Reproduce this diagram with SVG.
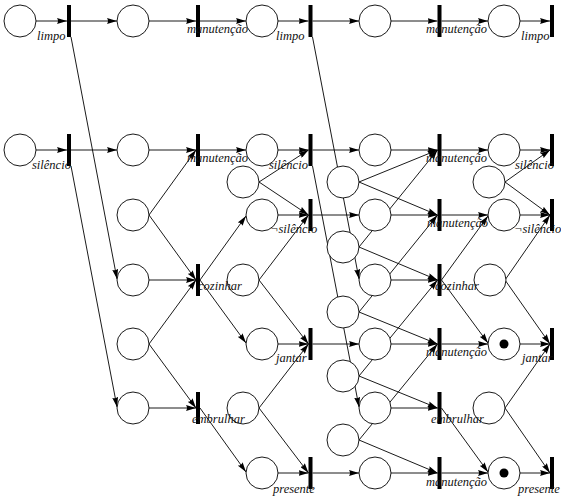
<svg xmlns="http://www.w3.org/2000/svg" width="561" height="496" viewBox="0 0 561 496">
<style>
.p{fill:#fff;stroke:#000;stroke-width:0.9}
.t{fill:#000}
.e{stroke:#000;stroke-width:0.9;fill:none;marker-end:url(#ah)}
.l{font-family:'Liberation Serif','Times New Roman',serif;font-style:italic;font-size:12.5px;fill:#111}
.k{fill:#000}
</style>
<defs>
<marker id="ah" markerUnits="userSpaceOnUse" markerWidth="10" markerHeight="6" refX="10" refY="3" orient="auto">
<path d="M0,0 L10,3 L0,6 Q2,3 0,0 z" fill="#000"/>
</marker>
</defs>
<rect width="561" height="496" fill="#fff"/>
<g id="connectors">
<line class="e" x1="36" y1="21" x2="67" y2="21"/>
<line class="e" x1="71" y1="21" x2="117" y2="21"/>
<line class="e" x1="149" y1="21" x2="196" y2="21"/>
<line class="e" x1="200" y1="21" x2="246" y2="21"/>
<line class="e" x1="278" y1="21" x2="308.5" y2="21"/>
<line class="e" x1="312.5" y1="21" x2="359" y2="21"/>
<line class="e" x1="391" y1="21" x2="437.5" y2="21"/>
<line class="e" x1="441.5" y1="21" x2="488" y2="21"/>
<line class="e" x1="520" y1="21" x2="550" y2="21"/>
<line class="e" x1="36" y1="150" x2="67" y2="150"/>
<line class="e" x1="71" y1="150" x2="117" y2="150"/>
<line class="e" x1="149" y1="150" x2="196" y2="150"/>
<line class="e" x1="200" y1="150" x2="246" y2="150"/>
<line class="e" x1="278" y1="150" x2="308.5" y2="150"/>
<line class="e" x1="312.5" y1="150" x2="359" y2="150"/>
<line class="e" x1="391" y1="150" x2="437.5" y2="150"/>
<line class="e" x1="441.5" y1="150" x2="488" y2="150"/>
<line class="e" x1="520" y1="150" x2="550" y2="150"/>
<line class="e" x1="278" y1="215" x2="308.5" y2="215"/>
<line class="e" x1="312.5" y1="215" x2="359" y2="215"/>
<line class="e" x1="391" y1="215" x2="437.5" y2="215"/>
<line class="e" x1="441.5" y1="215" x2="488" y2="215"/>
<line class="e" x1="520" y1="215" x2="550" y2="215"/>
<line class="e" x1="149" y1="280" x2="196" y2="280"/>
<line class="e" x1="391" y1="280" x2="437.5" y2="280"/>
<line class="e" x1="278" y1="344" x2="308.5" y2="344"/>
<line class="e" x1="312.5" y1="344" x2="359" y2="344"/>
<line class="e" x1="391" y1="344" x2="437.5" y2="344"/>
<line class="e" x1="441.5" y1="344" x2="488" y2="344"/>
<line class="e" x1="520" y1="344" x2="550" y2="344"/>
<line class="e" x1="149" y1="408" x2="196" y2="408"/>
<line class="e" x1="391" y1="408" x2="437.5" y2="408"/>
<line class="e" x1="278" y1="473" x2="308.5" y2="473"/>
<line class="e" x1="312.5" y1="473" x2="359" y2="473"/>
<line class="e" x1="391" y1="473" x2="437.5" y2="473"/>
<line class="e" x1="441.5" y1="473" x2="488" y2="473"/>
<line class="e" x1="520" y1="473" x2="550" y2="473"/>
<line class="e" x1="71" y1="37" x2="117" y2="279"/>
<line class="e" x1="71" y1="166" x2="117" y2="407"/>
<line class="e" x1="312.5" y1="37" x2="359" y2="279"/>
<line class="e" x1="312.5" y1="166" x2="359" y2="407"/>
<line class="e" x1="149" y1="215" x2="196" y2="150"/>
<line class="e" x1="149" y1="215" x2="196" y2="280"/>
<line class="e" x1="149" y1="344" x2="196" y2="280"/>
<line class="e" x1="149" y1="344" x2="196" y2="408"/>
<line class="e" x1="200" y1="280" x2="246" y2="216"/>
<line class="e" x1="200" y1="280" x2="246" y2="343"/>
<line class="e" x1="200" y1="408" x2="246" y2="472"/>
<line class="e" x1="259" y1="182" x2="308.5" y2="150"/>
<line class="e" x1="259" y1="182" x2="308.5" y2="215"/>
<line class="e" x1="259" y1="280" x2="308.5" y2="215"/>
<line class="e" x1="259" y1="280" x2="308.5" y2="344"/>
<line class="e" x1="259" y1="408" x2="308.5" y2="344"/>
<line class="e" x1="259" y1="408" x2="308.5" y2="473"/>
<line class="e" x1="359" y1="182" x2="437.5" y2="150"/>
<line class="e" x1="359" y1="182" x2="437.5" y2="215"/>
<line class="e" x1="359" y1="247" x2="437.5" y2="150"/>
<line class="e" x1="359" y1="247" x2="437.5" y2="280"/>
<line class="e" x1="359" y1="312" x2="437.5" y2="215"/>
<line class="e" x1="359" y1="312" x2="437.5" y2="344"/>
<line class="e" x1="359" y1="376" x2="437.5" y2="280"/>
<line class="e" x1="359" y1="376" x2="437.5" y2="408"/>
<line class="e" x1="359" y1="440" x2="437.5" y2="344"/>
<line class="e" x1="359" y1="440" x2="437.5" y2="473"/>
<line class="e" x1="441.5" y1="280" x2="488" y2="216"/>
<line class="e" x1="441.5" y1="280" x2="488" y2="343"/>
<line class="e" x1="441.5" y1="408" x2="488" y2="472"/>
<line class="e" x1="505" y1="182" x2="550" y2="150"/>
<line class="e" x1="505" y1="182" x2="550" y2="215"/>
<line class="e" x1="505" y1="280" x2="550" y2="215"/>
<line class="e" x1="505" y1="280" x2="550" y2="344"/>
<line class="e" x1="505" y1="408" x2="550" y2="344"/>
<line class="e" x1="505" y1="408" x2="550" y2="473"/>
</g>
<g id="pA1"><circle class="p" cx="20" cy="21" r="16"/></g>
<g id="pA2"><circle class="p" cx="20" cy="150" r="16"/></g>
<g id="pB1"><circle class="p" cx="133" cy="21" r="16"/></g>
<g id="pB2"><circle class="p" cx="133" cy="150" r="16"/></g>
<g id="pB3"><circle class="p" cx="133" cy="215" r="16"/></g>
<g id="pB4"><circle class="p" cx="133" cy="280" r="16"/></g>
<g id="pB5"><circle class="p" cx="133" cy="344" r="16"/></g>
<g id="pB6"><circle class="p" cx="133" cy="408" r="16"/></g>
<g id="pC1"><circle class="p" cx="262" cy="21" r="16"/></g>
<g id="pC2"><circle class="p" cx="262" cy="150" r="16"/></g>
<g id="pC3"><circle class="p" cx="262" cy="215" r="16"/></g>
<g id="pC5"><circle class="p" cx="262" cy="344" r="16"/></g>
<g id="pC7"><circle class="p" cx="262" cy="473" r="16"/></g>
<g id="pCa"><circle class="p" cx="243" cy="182" r="16"/></g>
<g id="pCb"><circle class="p" cx="243" cy="280" r="16"/></g>
<g id="pCc"><circle class="p" cx="243" cy="408" r="16"/></g>
<g id="pDa"><circle class="p" cx="343" cy="182" r="16"/></g>
<g id="pDb"><circle class="p" cx="343" cy="247" r="16"/></g>
<g id="pDc"><circle class="p" cx="343" cy="312" r="16"/></g>
<g id="pDd"><circle class="p" cx="343" cy="376" r="16"/></g>
<g id="pDe"><circle class="p" cx="343" cy="440" r="16"/></g>
<g id="pE1"><circle class="p" cx="375" cy="21" r="16"/></g>
<g id="pE2"><circle class="p" cx="375" cy="150" r="16"/></g>
<g id="pE3"><circle class="p" cx="375" cy="215" r="16"/></g>
<g id="pE4"><circle class="p" cx="375" cy="280" r="16"/></g>
<g id="pE5"><circle class="p" cx="375" cy="344" r="16"/></g>
<g id="pE6"><circle class="p" cx="375" cy="408" r="16"/></g>
<g id="pE7"><circle class="p" cx="375" cy="473" r="16"/></g>
<g id="pF1"><circle class="p" cx="504" cy="21" r="16"/></g>
<g id="pF2"><circle class="p" cx="504" cy="150" r="16"/></g>
<g id="pF3"><circle class="p" cx="504" cy="215" r="16"/></g>
<g id="pF5"><circle class="p" cx="504" cy="344" r="16"/><circle class="k" cx="504" cy="344" r="4.5"/></g>
<g id="pF7"><circle class="p" cx="504" cy="473" r="16"/><circle class="k" cx="504" cy="473" r="4.5"/></g>
<g id="pFa"><circle class="p" cx="489" cy="182" r="16"/></g>
<g id="pFb"><circle class="p" cx="490" cy="280" r="16"/></g>
<g id="pFc"><circle class="p" cx="489" cy="408" r="16"/></g>
<g id="t1a"><rect class="t" x="67" y="5" width="4" height="32"/><text class="l" x="37" y="40">limpo</text></g>
<g id="t1b"><rect class="t" x="67" y="134" width="4" height="32"/><text class="l" x="32" y="169">silêncio</text></g>
<g id="t2a"><rect class="t" x="196" y="5" width="4" height="32"/><text class="l" x="187" y="33">manutenção</text></g>
<g id="t2b"><rect class="t" x="196" y="134" width="4" height="32"/><text class="l" x="187" y="162">manutenção</text></g>
<g id="t2d"><rect class="t" x="196" y="264" width="4" height="32"/><text class="l" x="198" y="290">cozinhar</text></g>
<g id="t2f"><rect class="t" x="196" y="392" width="4" height="32"/><text class="l" x="192" y="423">embrulhar</text></g>
<g id="t3a"><rect class="t" x="308.5" y="5" width="4" height="32"/><text class="l" x="276" y="40">limpo</text></g>
<g id="t3b"><rect class="t" x="308.5" y="134" width="4" height="32"/><text class="l" x="269" y="169">silêncio</text></g>
<g id="t3c"><rect class="t" x="308.5" y="199" width="4" height="32"/><text class="l" x="270" y="233">¬silêncio</text></g>
<g id="t3e"><rect class="t" x="308.5" y="328" width="4" height="32"/><text class="l" x="276" y="362">jantar</text></g>
<g id="t3g"><rect class="t" x="308.5" y="457" width="4" height="32"/><text class="l" x="273" y="493">presente</text></g>
<g id="t4a"><rect class="t" x="437.5" y="5" width="4" height="32"/><text class="l" x="426" y="33">manutenção</text></g>
<g id="t4b"><rect class="t" x="437.5" y="134" width="4" height="32"/><text class="l" x="426" y="162">manutenção</text></g>
<g id="t4c"><rect class="t" x="437.5" y="199" width="4" height="32"/><text class="l" x="427" y="227">manutenção</text></g>
<g id="t4d"><rect class="t" x="437.5" y="264" width="4" height="32"/><text class="l" x="435" y="290">cozinhar</text></g>
<g id="t4e"><rect class="t" x="437.5" y="328" width="4" height="32"/><text class="l" x="426" y="356">manutenção</text></g>
<g id="t4f"><rect class="t" x="437.5" y="392" width="4" height="32"/><text class="l" x="431" y="423">embrulhar</text></g>
<g id="t4g"><rect class="t" x="437.5" y="457" width="4" height="32"/><text class="l" x="426" y="486">manutenção</text></g>
<g id="t5a"><rect class="t" x="550" y="5" width="4" height="32"/><text class="l" x="521" y="40">limpo</text></g>
<g id="t5b"><rect class="t" x="550" y="134" width="4" height="32"/><text class="l" x="515" y="169">silêncio</text></g>
<g id="t5c"><rect class="t" x="550" y="199" width="4" height="32"/><text class="l" x="514" y="233">¬silêncio</text></g>
<g id="t5e"><rect class="t" x="550" y="328" width="4" height="32"/><text class="l" x="522" y="362">jantar</text></g>
<g id="t5g"><rect class="t" x="550" y="457" width="4" height="32"/><text class="l" x="518" y="493">presente</text></g>
</svg>
